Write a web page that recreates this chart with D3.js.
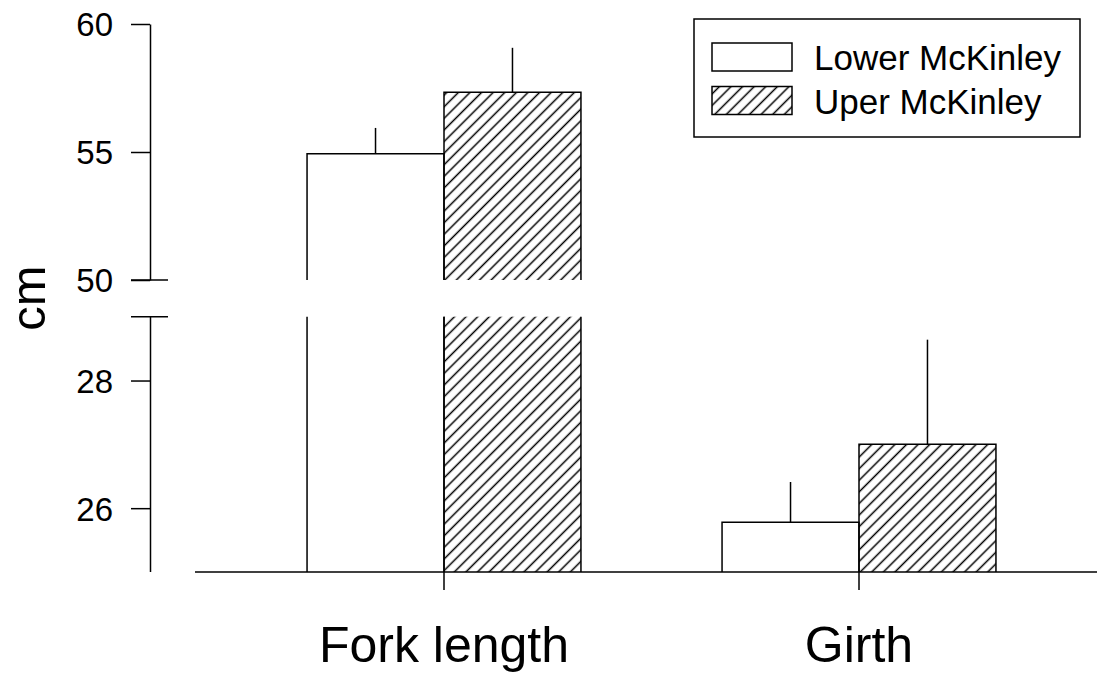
<!DOCTYPE html>
<meta charset="utf-8">
<style>
  body { margin: 0; background: #fff; }
  svg { display: block; font-family: "Liberation Sans", Arial, Helvetica, sans-serif; }
  .bar { fill: none; stroke: #000; stroke-width: 1.5px; }
  .err { stroke: #000; stroke-width: 1.5px; }
  .axis path, .axis line { stroke: #000; stroke-width: 1.5px; }
  .axis text { fill: #000; font-family: "Liberation Sans", Arial, Helvetica, sans-serif; }
</style>
<svg width="1098" height="673"></svg>
<script src="https://cdn.jsdelivr.net/npm/d3@7"></script>
<script>

  // data
  var categories = ["Fork length", "Girth"];
  var series = ["Lower McKinley", "Uper McKinley"];
  var lowerMeans = [54.93, 25.78];
  var lowerErr = [1.01, 0.63];
  var upperMeans = [57.33, 27.0];
  var upperErr = [1.74, 1.64];
  var upperTicks = [50, 55, 60];
  var lowerTicks = [26, 28];

  var svg = d3.select("svg");

  // broken y axis: two scales
  var yUp = d3.scaleLinear().domain([50, 60]).range([280, 24]);
  var yLo = d3.scaleLinear().domain([25, 29]).range([572, 316.7]);

  var x = d3.scaleBand().domain(categories).range([236.5, 1066.5])
        .paddingInner(0.34).paddingOuter(0.17);
  var xs = d3.scaleBand().domain(series).range([0, x.bandwidth()]);

  // hatch pattern
  var defs = svg.append("defs");
  var pat = defs.append("pattern")
        .attr("id", "hatch")
        .attr("patternUnits", "userSpaceOnUse")
        .attr("width", 8.2)
        .attr("height", 10)
        .attr("patternTransform", "rotate(45)");
  pat.append("line")
        .attr("x1", 4.1).attr("y1", 0)
        .attr("x2", 4.1).attr("y2", 10)
        .attr("stroke", "#000")
        .attr("stroke-width", 1.5);

  var rows = [];
  categories.forEach(function (c, i) {
    rows.push({cat: c, s: series[0], v: lowerMeans[i], e: lowerErr[i]});
    rows.push({cat: c, s: series[1], v: upperMeans[i], e: upperErr[i]});
  });

  function fillOf(d) { return d.s === series[1] ? "url(#hatch)" : "#fff"; }

  var g = svg.append("g");

  rows.forEach(function (d) {
    var x0 = x(d.cat) + xs(d.s), x1 = x0 + xs.bandwidth();
    if (d.v >= 50) {
      // lower segment: full height, open top
      g.append("rect").attr("x", x0).attr("y", yLo(29)).attr("width", x1 - x0)
            .attr("height", yLo(25) - yLo(29)).attr("fill", fillOf(d));
      g.append("path").attr("class", "bar")
            .attr("d", "M" + x0 + "," + yLo(25) + "V" + yLo(29) + "M" + x1 + "," + yLo(25) + "V" + yLo(29));
      // upper segment
      g.append("rect").attr("x", x0).attr("y", yUp(d.v)).attr("width", x1 - x0)
            .attr("height", yUp(50) - yUp(d.v)).attr("fill", fillOf(d));
      g.append("path").attr("class", "bar")
            .attr("d", "M" + x0 + "," + yUp(50) + "V" + yUp(d.v) + "H" + x1 + "V" + yUp(50));
      g.append("line").attr("class", "err")
            .attr("x1", (x0 + x1) / 2).attr("x2", (x0 + x1) / 2)
            .attr("y1", yUp(d.v)).attr("y2", yUp(d.v + d.e));
    } else {
      g.append("rect").attr("x", x0).attr("y", yLo(d.v)).attr("width", x1 - x0)
            .attr("height", yLo(25) - yLo(d.v)).attr("fill", fillOf(d));
      g.append("path").attr("class", "bar")
            .attr("d", "M" + x0 + "," + yLo(25) + "V" + yLo(d.v) + "H" + x1 + "V" + yLo(25));
      g.append("line").attr("class", "err")
            .attr("x1", (x0 + x1) / 2).attr("x2", (x0 + x1) / 2)
            .attr("y1", yLo(d.v)).attr("y2", yLo(d.v + d.e));
    }
  });

  // y axes
  var axX = 150;
  var upAxis = svg.append("g").attr("class", "axis")
        .attr("transform", "translate(" + axX + ",0)")
        .call(d3.axisLeft(yUp).tickValues(upperTicks).tickFormat(d3.format("d"))
              .tickSize(19).tickSizeOuter(0).tickPadding(18));
  var loAxis = svg.append("g").attr("class", "axis")
        .attr("transform", "translate(" + axX + ",0)")
        .call(d3.axisLeft(yLo).tickValues(lowerTicks).tickFormat(d3.format("d"))
              .tickSize(19).tickSizeOuter(0).tickPadding(18));
  loAxis.select(".domain").attr("d", "M0.5," + yLo(29) + "V" + yLo(25));
  svg.selectAll(".axis text").attr("font-size", 33).attr("dy", "0.36em");

  // break marks
  svg.append("line").attr("class", "err")
        .attr("x1", axX - 19).attr("x2", axX + 18).attr("y1", yUp(50)).attr("y2", yUp(50));
  svg.append("line").attr("class", "err")
        .attr("x1", axX - 19).attr("x2", axX + 18).attr("y1", yLo(29)).attr("y2", yLo(29));

  // x axis
  var xAxis = svg.append("g").attr("class", "axis")
        .attr("transform", "translate(0," + yLo(25) + ")")
        .call(d3.axisBottom(x).tickSize(18).tickPadding(36));
  xAxis.select(".domain").remove();
  xAxis.append("line").attr("x1", 195).attr("x2", 1097).attr("y1", 0).attr("y2", 0)
        .attr("stroke", "#000").attr("stroke-width", 1.5);
  xAxis.selectAll("text").attr("font-size", 50);

  // y title
  svg.append("text")
        .attr("transform", "translate(45," + ((yUp(60) + yLo(25)) / 2) + ") rotate(-90)")
        .attr("text-anchor", "middle")
        .attr("font-size", 49)
        .text("cm");

  // legend
  var leg = svg.append("g");
  leg.append("rect").attr("x", 694).attr("y", 19).attr("width", 386).attr("height", 118)
        .attr("fill", "#fff").attr("stroke", "#000").attr("stroke-width", 1.5);
  series.forEach(function (s, i) {
    var yy = 43 + i * 43.5;
    leg.append("rect").attr("x", 712).attr("y", yy).attr("width", 80).attr("height", 28)
          .attr("fill", i === 1 ? "url(#hatch)" : "#fff")
          .attr("stroke", "#000").attr("stroke-width", 1.5);
    leg.append("text").attr("x", 814).attr("y", yy + 27)
          .attr("font-size", 35)
          .text(s);
  });

</script>
